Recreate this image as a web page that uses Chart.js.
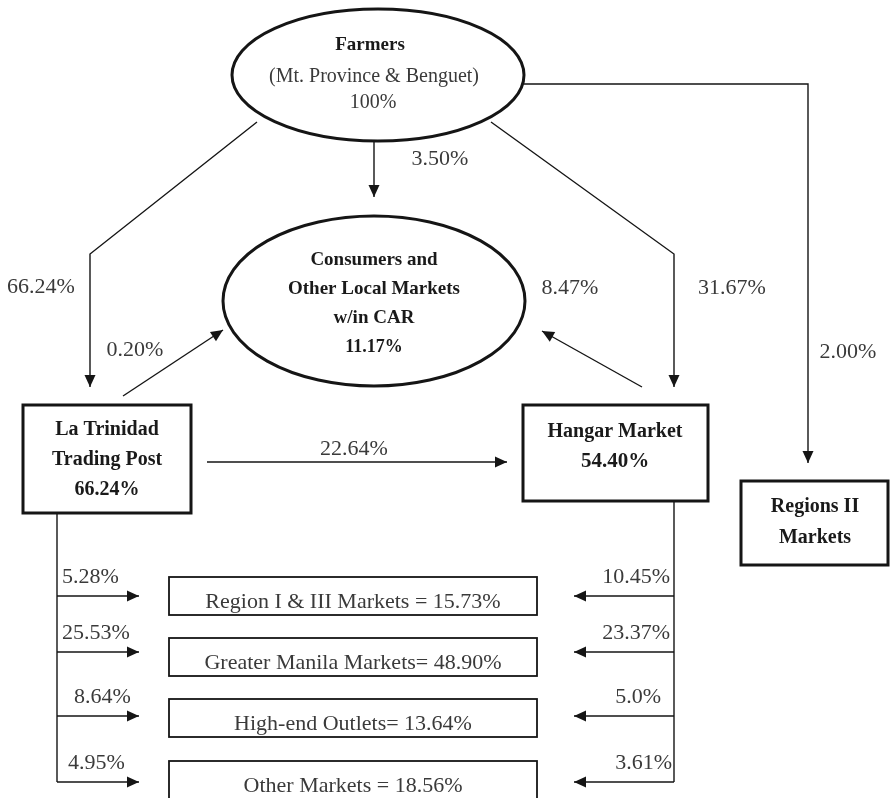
<!DOCTYPE html>
<html>
<head>
<meta charset="utf-8">
<script src="https://cdn.jsdelivr.net/npm/chart.js@4.4.0/dist/chart.umd.min.js"></script>
<style>
    html, body { margin: 0; padding: 0; background: #ffffff; }
    #wrap { width: 890px; height: 798px; }
</style>
</head>
<body>
<div id="wrap"><canvas id="flow" width="890" height="798"></canvas></div>
<script>
// 数値データ (%)
const farmersShare = 100;
const farmersFlows = [66.24, 3.50, 31.67, 2.00];   // La Trinidad, Consumers, Hangar, Regions II
const toConsumerFlows = [0.20, 8.47];              // from La Trinidad, from Hangar
const trinidadToHangar = 22.64;
const hubShares = [66.24, 54.40];                  // La Trinidad, Hangar
const consumerShare = 11.17;
const outletNames = ['Region I & III Markets = ', 'Greater Manila Markets= ', 'High-end Outlets= ', 'Other Markets = '];
const outletShares = [15.73, 48.90, 13.64, 18.56];
const trinidadOut = [5.28, 25.53, 8.64, 4.95];
const hangarOut = [10.45, 23.37, 5.0, 3.61];
const hangarOutDecimals = [2, 2, 1, 2];

const pct = (v, d = 2) => v.toFixed(d) + '%';

// レイアウト (座標は軸の単位)
const layout = {
    farmers: { cx: 378, cy: 75, rx: 146, ry: 66 },
    consumers: { cx: 374, cy: 301, rx: 151, ry: 85 },
    trinidad: { x1: 23, y1: 405, x2: 191, y2: 513 },
    hangar: { x1: 523, y1: 405, x2: 708, y2: 501 },
    regions: { x1: 741, y1: 481, x2: 888, y2: 565 },
    outletBox: { x1: 169, x2: 537, h: 38 },
    outletTop: [577, 638, 699, 761],
    branchY: [596, 652, 716, 782],
    leftTrunkX: 57, leftTipX: 139,
    rightTrunkX: 674, rightTipX: 574
};

const SERIF = "'Liberation Serif', 'Times New Roman', serif";
const LINE = '#151515';

// 矢印の経路
function connectorPaths() {
    const L = layout;
    const paths = [
        { pts: [[257, 122], [90, 254], [90, 387]], arrow: true },
        { pts: [[374, 141], [374, 197]], arrow: true },
        { pts: [[491, 122], [674, 254], [674, 387]], arrow: true },
        { pts: [[524, 84], [808, 84], [808, 463]], arrow: true },
        { pts: [[123, 396], [223, 330]], arrow: true },
        { pts: [[642, 387], [542, 331]], arrow: true },
        { pts: [[207, 462], [507, 462]], arrow: true },
        { pts: [[L.leftTrunkX, L.trinidad.y2], [L.leftTrunkX, L.branchY[3]]], arrow: false },
        { pts: [[L.rightTrunkX, L.hangar.y2], [L.rightTrunkX, L.branchY[3]]], arrow: false }
    ];
    L.branchY.forEach(y => {
        paths.push({ pts: [[L.leftTrunkX, y], [L.leftTipX, y]], arrow: true });
        paths.push({ pts: [[L.rightTrunkX, y], [L.rightTipX, y]], arrow: true });
    });
    return paths;
}

const datasets = connectorPaths().map(p => ({
    data: p.pts.map(([x, y]) => ({ x, y })),
    showLine: true,
    borderColor: LINE,
    borderWidth: 1.4,
    pointRadius: 0,
    pointHoverRadius: 0,
    tension: 0,
    fill: false,
    arrow: p.arrow
}));

// 矢じり
const arrowHeads = {
    id: 'arrowHeads',
    afterDatasetsDraw(chart) {
        const ctx = chart.ctx;
        chart.data.datasets.forEach((ds, i) => {
            if (!ds.arrow) return;
            const pts = chart.getDatasetMeta(i).data;
            const a = pts[pts.length - 2], b = pts[pts.length - 1];
            const ang = Math.atan2(b.y - a.y, b.x - a.x);
            const len = 12, half = 5.5;
            ctx.save();
            ctx.fillStyle = LINE;
            ctx.translate(b.x, b.y);
            ctx.rotate(ang);
            ctx.beginPath();
            ctx.moveTo(0, 0);
            ctx.lineTo(-len, -half);
            ctx.lineTo(-len, half);
            ctx.closePath();
            ctx.fill();
            ctx.restore();
        });
    }
};

function drawText(ctx, sx, sy, text, x, y, font, color, align) {
    ctx.font = font;
    ctx.fillStyle = color;
    ctx.textAlign = align || 'center';
    ctx.textBaseline = 'middle';
    ctx.fillText(text, sx.getPixelForValue(x), sy.getPixelForValue(y));
}

// ノード (楕円・四角) と文字
const nodes = {
    id: 'nodes',
    afterDatasetsDraw(chart) {
        const ctx = chart.ctx;
        const sx = chart.scales.x, sy = chart.scales.y;
        const L = layout;
        const px = v => sx.getPixelForValue(v), py = v => sy.getPixelForValue(v);

        const ellipse = e => {
            ctx.beginPath();
            ctx.ellipse(px(e.cx), py(e.cy), Math.abs(px(e.cx + e.rx) - px(e.cx)), Math.abs(py(e.cy + e.ry) - py(e.cy)), 0, 0, Math.PI * 2);
            ctx.fillStyle = '#ffffff';
            ctx.fill();
            ctx.lineWidth = 3;
            ctx.strokeStyle = LINE;
            ctx.stroke();
        };
        const box = (b, w) => {
            ctx.fillStyle = '#ffffff';
            ctx.fillRect(px(b.x1), py(b.y1), px(b.x2) - px(b.x1), py(b.y2) - py(b.y1));
            ctx.lineWidth = w;
            ctx.strokeStyle = LINE;
            ctx.strokeRect(px(b.x1), py(b.y1), px(b.x2) - px(b.x1), py(b.y2) - py(b.y1));
        };

        ctx.save();
        ellipse(L.farmers);
        ellipse(L.consumers);
        box(L.trinidad, 3);
        box(L.hangar, 3);
        box(L.regions, 3);
        L.outletTop.forEach(t => box({ x1: L.outletBox.x1, y1: t, x2: L.outletBox.x2, y2: t + L.outletBox.h }, 1.8));

        const B = 'bold 20px ' + SERIF, R = '22px ' + SERIF;
        const dark = '#1a1a1a', grey = '#3a3a3a';

        drawText(ctx, sx, sy, 'Farmers', 370, 45, 'bold 19px ' + SERIF, dark);
        drawText(ctx, sx, sy, '(Mt. Province & Benguet)', 374, 77, '20px ' + SERIF, grey);
        drawText(ctx, sx, sy, pct(farmersShare, 0), 373, 103, '20px ' + SERIF, grey);

        drawText(ctx, sx, sy, 'Consumers and', 374, 260, 'bold 19px ' + SERIF, dark);
        drawText(ctx, sx, sy, 'Other Local Markets', 374, 289, 'bold 19px ' + SERIF, dark);
        drawText(ctx, sx, sy, 'w/in CAR', 374, 318, 'bold 19px ' + SERIF, dark);
        drawText(ctx, sx, sy, pct(consumerShare), 374, 347, 'bold 18px ' + SERIF, dark);

        drawText(ctx, sx, sy, 'La Trinidad', 107, 430, B, dark);
        drawText(ctx, sx, sy, 'Trading Post', 107, 460, B, dark);
        drawText(ctx, sx, sy, pct(hubShares[0]), 107, 490, B, dark);

        drawText(ctx, sx, sy, 'Hangar Market', 615, 432, B, dark);
        drawText(ctx, sx, sy, pct(hubShares[1]), 615, 462, 'bold 21px ' + SERIF, dark);

        drawText(ctx, sx, sy, 'Regions II', 815, 507, B, dark);
        drawText(ctx, sx, sy, 'Markets', 815, 538, B, dark);

        outletNames.forEach((n, i) => {
            drawText(ctx, sx, sy, n + pct(outletShares[i]), 353, L.outletTop[i] + 25, R, grey);
        });

        // 流量ラベル
        drawText(ctx, sx, sy, pct(farmersFlows[0]), 41, 287, R, grey);
        drawText(ctx, sx, sy, pct(farmersFlows[1]), 440, 159, R, grey);
        drawText(ctx, sx, sy, pct(farmersFlows[2]), 732, 288, R, grey);
        drawText(ctx, sx, sy, pct(farmersFlows[3]), 848, 352, R, grey);
        drawText(ctx, sx, sy, pct(toConsumerFlows[0]), 135, 350, R, grey);
        drawText(ctx, sx, sy, pct(toConsumerFlows[1]), 570, 288, R, grey);
        drawText(ctx, sx, sy, pct(trinidadToHangar), 354, 449, R, grey);

        const leftX = [62, 62, 74, 68];
        trinidadOut.forEach((v, i) => {
            drawText(ctx, sx, sy, pct(v), leftX[i], L.branchY[i] - 19, R, grey, 'left');
        });
        const rightX = [670, 670, 661, 672];
        hangarOut.forEach((v, i) => {
            drawText(ctx, sx, sy, pct(v, hangarOutDecimals[i]), rightX[i], L.branchY[i] - 19, R, grey, 'right');
        });
        ctx.restore();
    }
};

new Chart(document.getElementById('flow'), {
    type: 'scatter',
    data: { datasets },
    options: {
        responsive: false,
        animation: false,
        events: [],
        layout: { padding: 0 },
        scales: {
            x: { type: 'linear', min: 0, max: 890, display: false },
            y: { type: 'linear', min: 0, max: 798, reverse: true, display: false }
        },
        plugins: {
            legend: { display: false },
            tooltip: { enabled: false }
        }
    },
    plugins: [arrowHeads, nodes]
});
</script>
</body>
</html>
